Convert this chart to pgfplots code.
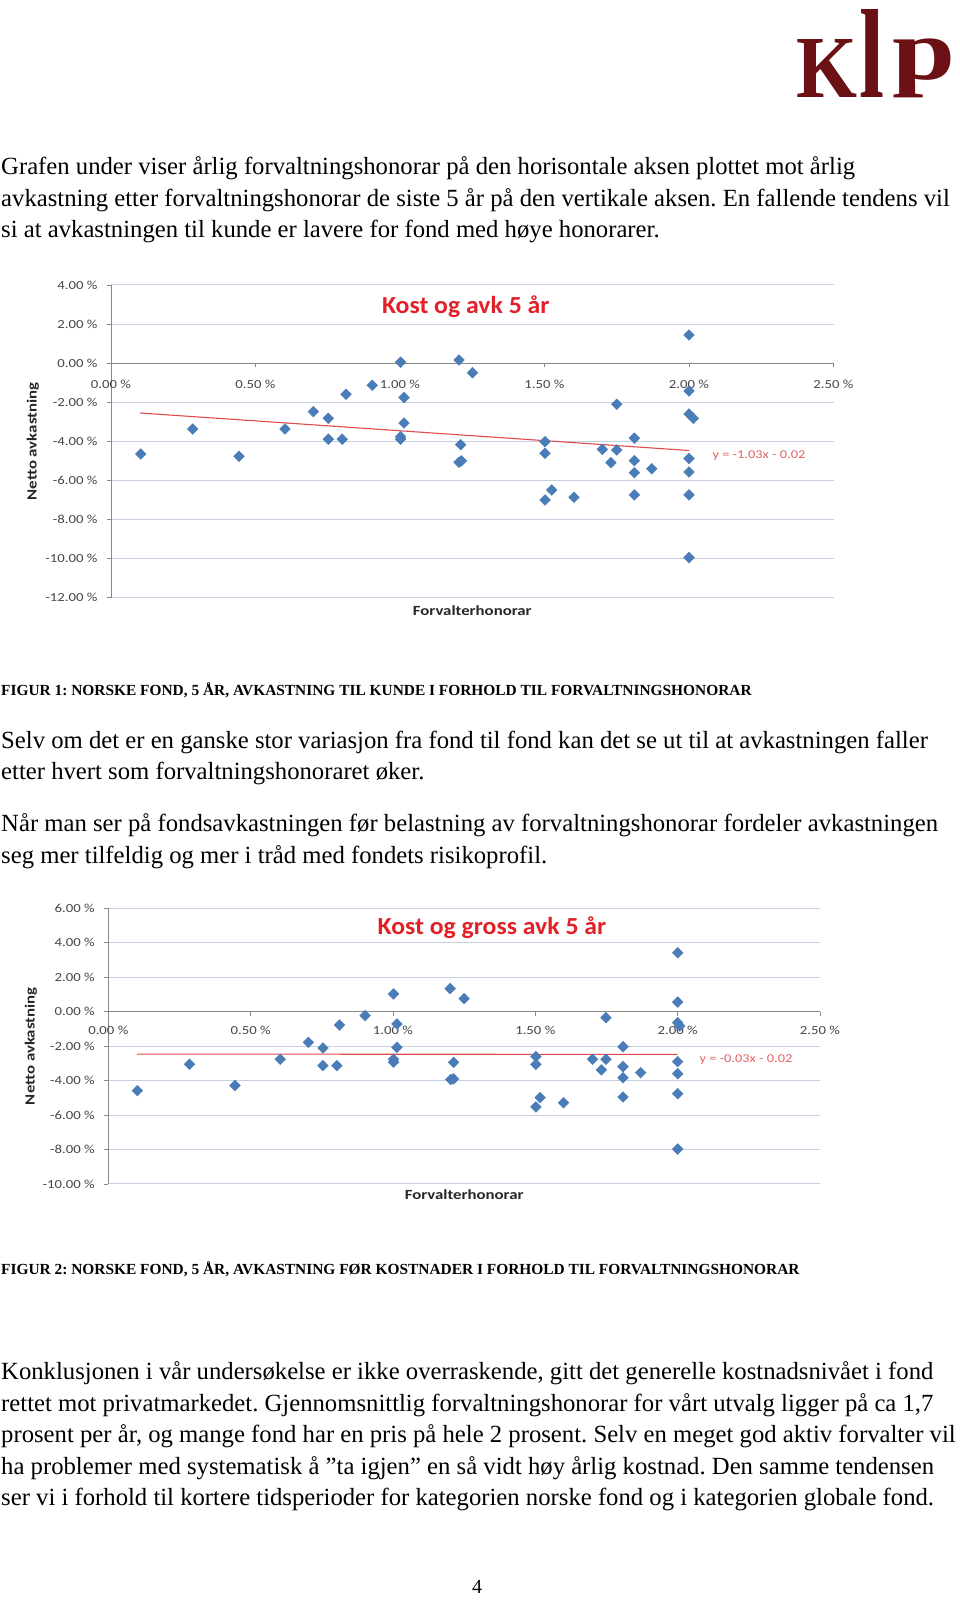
\documentclass[border=0pt]{standalone}
\usepackage{fontspec}
\usepackage{graphicx}
\usepackage{pgfplots}
\usepackage{pgfplotstable}
\pgfplotsset{compat=1.18}
\setmainfont{Liberation Serif}
\newfontfamily\chartfont{Carlito}[FakeStretch=1.2]
\newfontfamily\titlefont{Carlito}[FakeStretch=1.05]
\definecolor{markblue}{RGB}{74,124,184}
\definecolor{trendred}{RGB}{225,75,75}
\definecolor{gridcol}{RGB}{196,208,224}
\definecolor{axisgrey}{RGB}{135,135,135}
\definecolor{ticklab}{RGB}{70,70,70}
\definecolor{titlered}{RGB}{226,32,40}
\definecolor{eqred}{RGB}{222,100,100}
\definecolor{logored}{RGB}{107,16,21}
\newcommand\body{\fontsize{24.7}{30}\selectfont}
\newcommand\capt{\fontsize{15.4}{18}\selectfont\bfseries}
\frenchspacing

\pgfplotstableread{
x y
0.103 -4.65
0.283 -3.37
0.443 -4.76
0.602 -3.37
0.700 -2.48
0.752 -2.82
0.752 -3.89
0.800 -3.89
0.813 -1.59
0.904 -1.13
1.002 0.05
1.014 -1.76
1.014 -3.06
1.002 -3.76
1.002 -3.89
1.204 0.16
1.251 -0.49
1.210 -4.17
1.204 -5.07
1.212 -5.00
1.502 -4.02
1.502 -4.61
1.525 -6.49
1.502 -7.00
1.602 -6.86
1.700 -4.41
1.730 -5.09
1.750 -2.10
1.750 -4.44
1.811 -3.84
1.811 -4.99
1.811 -5.60
1.811 -6.74
1.871 -5.40
2.000 1.44
2.000 -1.42
2.000 -2.60
2.015 -2.82
2.000 -4.88
2.000 -5.57
2.000 -6.74
2.000 -9.95
}\netto

\pgfplotstableread{
x y
0.102 -4.58
0.285 -3.05
0.445 -4.29
0.604 -2.76
0.703 -1.78
0.754 -2.11
0.754 -3.13
0.803 -3.13
0.812 -0.77
0.902 -0.23
1.002 1.03
1.014 -0.71
1.014 -2.07
1.002 -2.76
1.002 -2.93
1.201 1.34
1.250 0.76
1.213 -2.94
1.203 -3.93
1.213 -3.90
1.502 -2.61
1.502 -3.06
1.517 -4.99
1.502 -5.53
1.599 -5.28
1.701 -2.76
1.732 -3.38
1.748 -0.35
1.748 -2.76
1.808 -2.03
1.808 -3.19
1.808 -3.83
1.808 -4.95
1.870 -3.54
2.000 3.42
2.000 0.56
2.000 -0.64
2.007 -0.83
2.000 -2.90
2.000 -3.60
2.000 -4.76
2.000 -7.97
}\gross

\pgfplotsset{
  kostaxis/.style={
    scale only axis, anchor=south west,
    xmin=0, xmax=2.5,
    axis x line=middle, axis y line=left,
    axis line style={draw=axisgrey, line width=0.8pt, -},
    xtick={0,0.5,1,1.5,2,2.5},
    xticklabels={0.00 \%,0.50 \%,1.00 \%,1.50 \%,2.00 \%,2.50 \%},
    hide obscured x ticks=false, hide obscured y ticks=false,
    ymajorgrids, grid style={draw=gridcol, line width=1pt},
    major tick length=4pt, tick align=outside,
    tick style={draw=axisgrey, line width=0.8pt},
    tick label style={font=\chartfont\fontsize{12.3}{14}\selectfont, text=ticklab},
    yticklabel style={anchor=east, xshift=-6pt},
    clip=false,
    title style={anchor=center, font=\titlefont\fontsize{24.5}{28}\selectfont\bfseries, text=titlered},
    xlabel style={anchor=center, font=\chartfont\fontsize{14}{16}\selectfont\bfseries, text=black!85},
    ylabel style={anchor=center, font=\chartfont\fontsize{14}{16}\selectfont\bfseries, text=black!85},
  },
  ptstyle/.style={only marks, mark=square*, mark size=3.8pt,
    mark options={rotate=45, fill=markblue, draw=markblue}},
  trendstyle/.style={draw=trendred, line width=1.1pt, no marks},
}

\begin{document}
\begin{tikzpicture}
\fill[white] (0,0) rectangle (960pt,1600pt);
\path[use as bounding box] (0,0) rectangle (960pt,1600pt);

% logo
\node[anchor=south west, inner sep=0, text=logored] at (796pt,1502pt) {\bfseries\resizebox*{61pt}{58pt}{K}};
\node[anchor=south west, inner sep=0, text=logored] at (859pt,1502pt) {\bfseries\resizebox*{25pt}{88pt}{l}};
\node[anchor=south west, inner sep=0, text=logored] at (892pt,1502pt) {\bfseries\resizebox*{63pt}{59pt}{p}};

% text
\begin{scope}[every node/.style={anchor=base west, inner sep=0, font=\body}]
\node at (1pt,1425pt) {Grafen under viser årlig forvaltningshonorar på den horisontale aksen plottet mot årlig};
\node at (1pt,1393pt) {avkastning etter forvaltningshonorar de siste 5 år på den vertikale aksen. En fallende tendens vil};
\node at (1pt,1362.5pt) {si at avkastningen til kunde er lavere for fond med høye honorarer.};
\node at (1pt,851pt) {Selv om det er en ganske stor variasjon fra fond til fond kan det se ut til at avkastningen faller};
\node at (1pt,820pt) {etter hvert som forvaltningshonoraret øker.};
\node at (1pt,768pt) {Når man ser på fondsavkastningen før belastning av forvaltningshonorar fordeler avkastningen};
\node at (1pt,736pt) {seg mer tilfeldig og mer i tråd med fondets risikoprofil.};
\node at (1pt,220pt) {Konklusjonen i vår undersøkelse er ikke overraskende, gitt det generelle kostnadsnivået i fond};
\node at (1pt,188.5pt) {rettet mot privatmarkedet. Gjennomsnittlig forvaltningshonorar for vårt utvalg ligger på ca 1,7};
\node at (1pt,157pt) {prosent per år, og mange fond har en pris på hele 2 prosent. Selv en meget god aktiv forvalter vil};
\node at (1pt,125.5pt) {ha problemer med systematisk å ”ta igjen” en så vidt høy årlig kostnad. Den samme tendensen};
\node at (1pt,94pt) {ser vi i forhold til kortere tidsperioder for kategorien norske fond og i kategorien globale fond.};
\node[font=\capt] at (1pt,904.5pt) {FIGUR 1: NORSKE FOND, 5 ÅR, AVKASTNING TIL KUNDE I FORHOLD TIL FORVALTNINGSHONORAR};
\node[font=\capt] at (1pt,325.5pt) {FIGUR 2: NORSKE FOND, 5 ÅR, AVKASTNING FØR KOSTNADER I FORHOLD TIL FORVALTNINGSHONORAR};
\end{scope}
\node[anchor=base, inner sep=0, font=\fontsize{20}{24}\selectfont] at (477pt,6pt) {4};

% chart 1
\begin{axis}[kostaxis,
  at={(111pt,1002.3pt)}, width=722.5pt, height=312.7pt,
  ymin=-12, ymax=4,
  ytick={-12,-10,-8,-6,-4,-2,0,2,4},
  yticklabels={-12.00 \%,-10.00 \%,-8.00 \%,-6.00 \%,-4.00 \%,-2.00 \%,0.00 \%,2.00 \%,4.00 \%},
  xticklabel style={anchor=base, yshift=-21pt},
  title={Kost og avk 5 år}, title style={at={(rel axis cs:0.491,0.91)}},
  xlabel={Forvalterhonorar}, xlabel style={at={(rel axis cs:0.5,0)}, yshift=-12.5pt},
  ylabel={Netto avkastning}, ylabel style={at={(rel axis cs:-0.108,0.5)}},
]
\addplot[ptstyle] table[x=x,y=y] {\netto};
\addplot[trendstyle] coordinates {(0.1,-2.55) (2.0,-4.47)};
\node[font=\chartfont\fontsize{12}{14}\selectfont, text=eqred] at (axis cs:2.242,-4.75) {y = -1.03x - 0.02};
\end{axis}

% chart 2
\begin{axis}[kostaxis,
  at={(108.3pt,416pt)}, width=711.7pt, height=275.7pt,
  ymin=-10, ymax=6,
  ytick={-10,-8,-6,-4,-2,0,2,4,6},
  yticklabels={-10.00 \%,-8.00 \%,-6.00 \%,-4.00 \%,-2.00 \%,0.00 \%,2.00 \%,4.00 \%,6.00 \%},
  xticklabel style={anchor=base, yshift=-19pt},
  title={Kost og gross avk 5 år}, title style={at={(rel axis cs:0.539,0.907)}},
  xlabel={Forvalterhonorar}, xlabel style={at={(rel axis cs:0.5,0)}, yshift=-11pt},
  ylabel={Netto avkastning}, ylabel style={at={(rel axis cs:-0.1086,0.5)}},
]
\addplot[ptstyle] table[x=x,y=y] {\gross};
\addplot[trendstyle] coordinates {(0.1,-2.46) (2.0,-2.48)};
\node[font=\chartfont\fontsize{12}{14}\selectfont, text=eqred] at (axis cs:2.24,-2.80) {y = -0.03x - 0.02};
\end{axis}
\end{tikzpicture}
\end{document}
